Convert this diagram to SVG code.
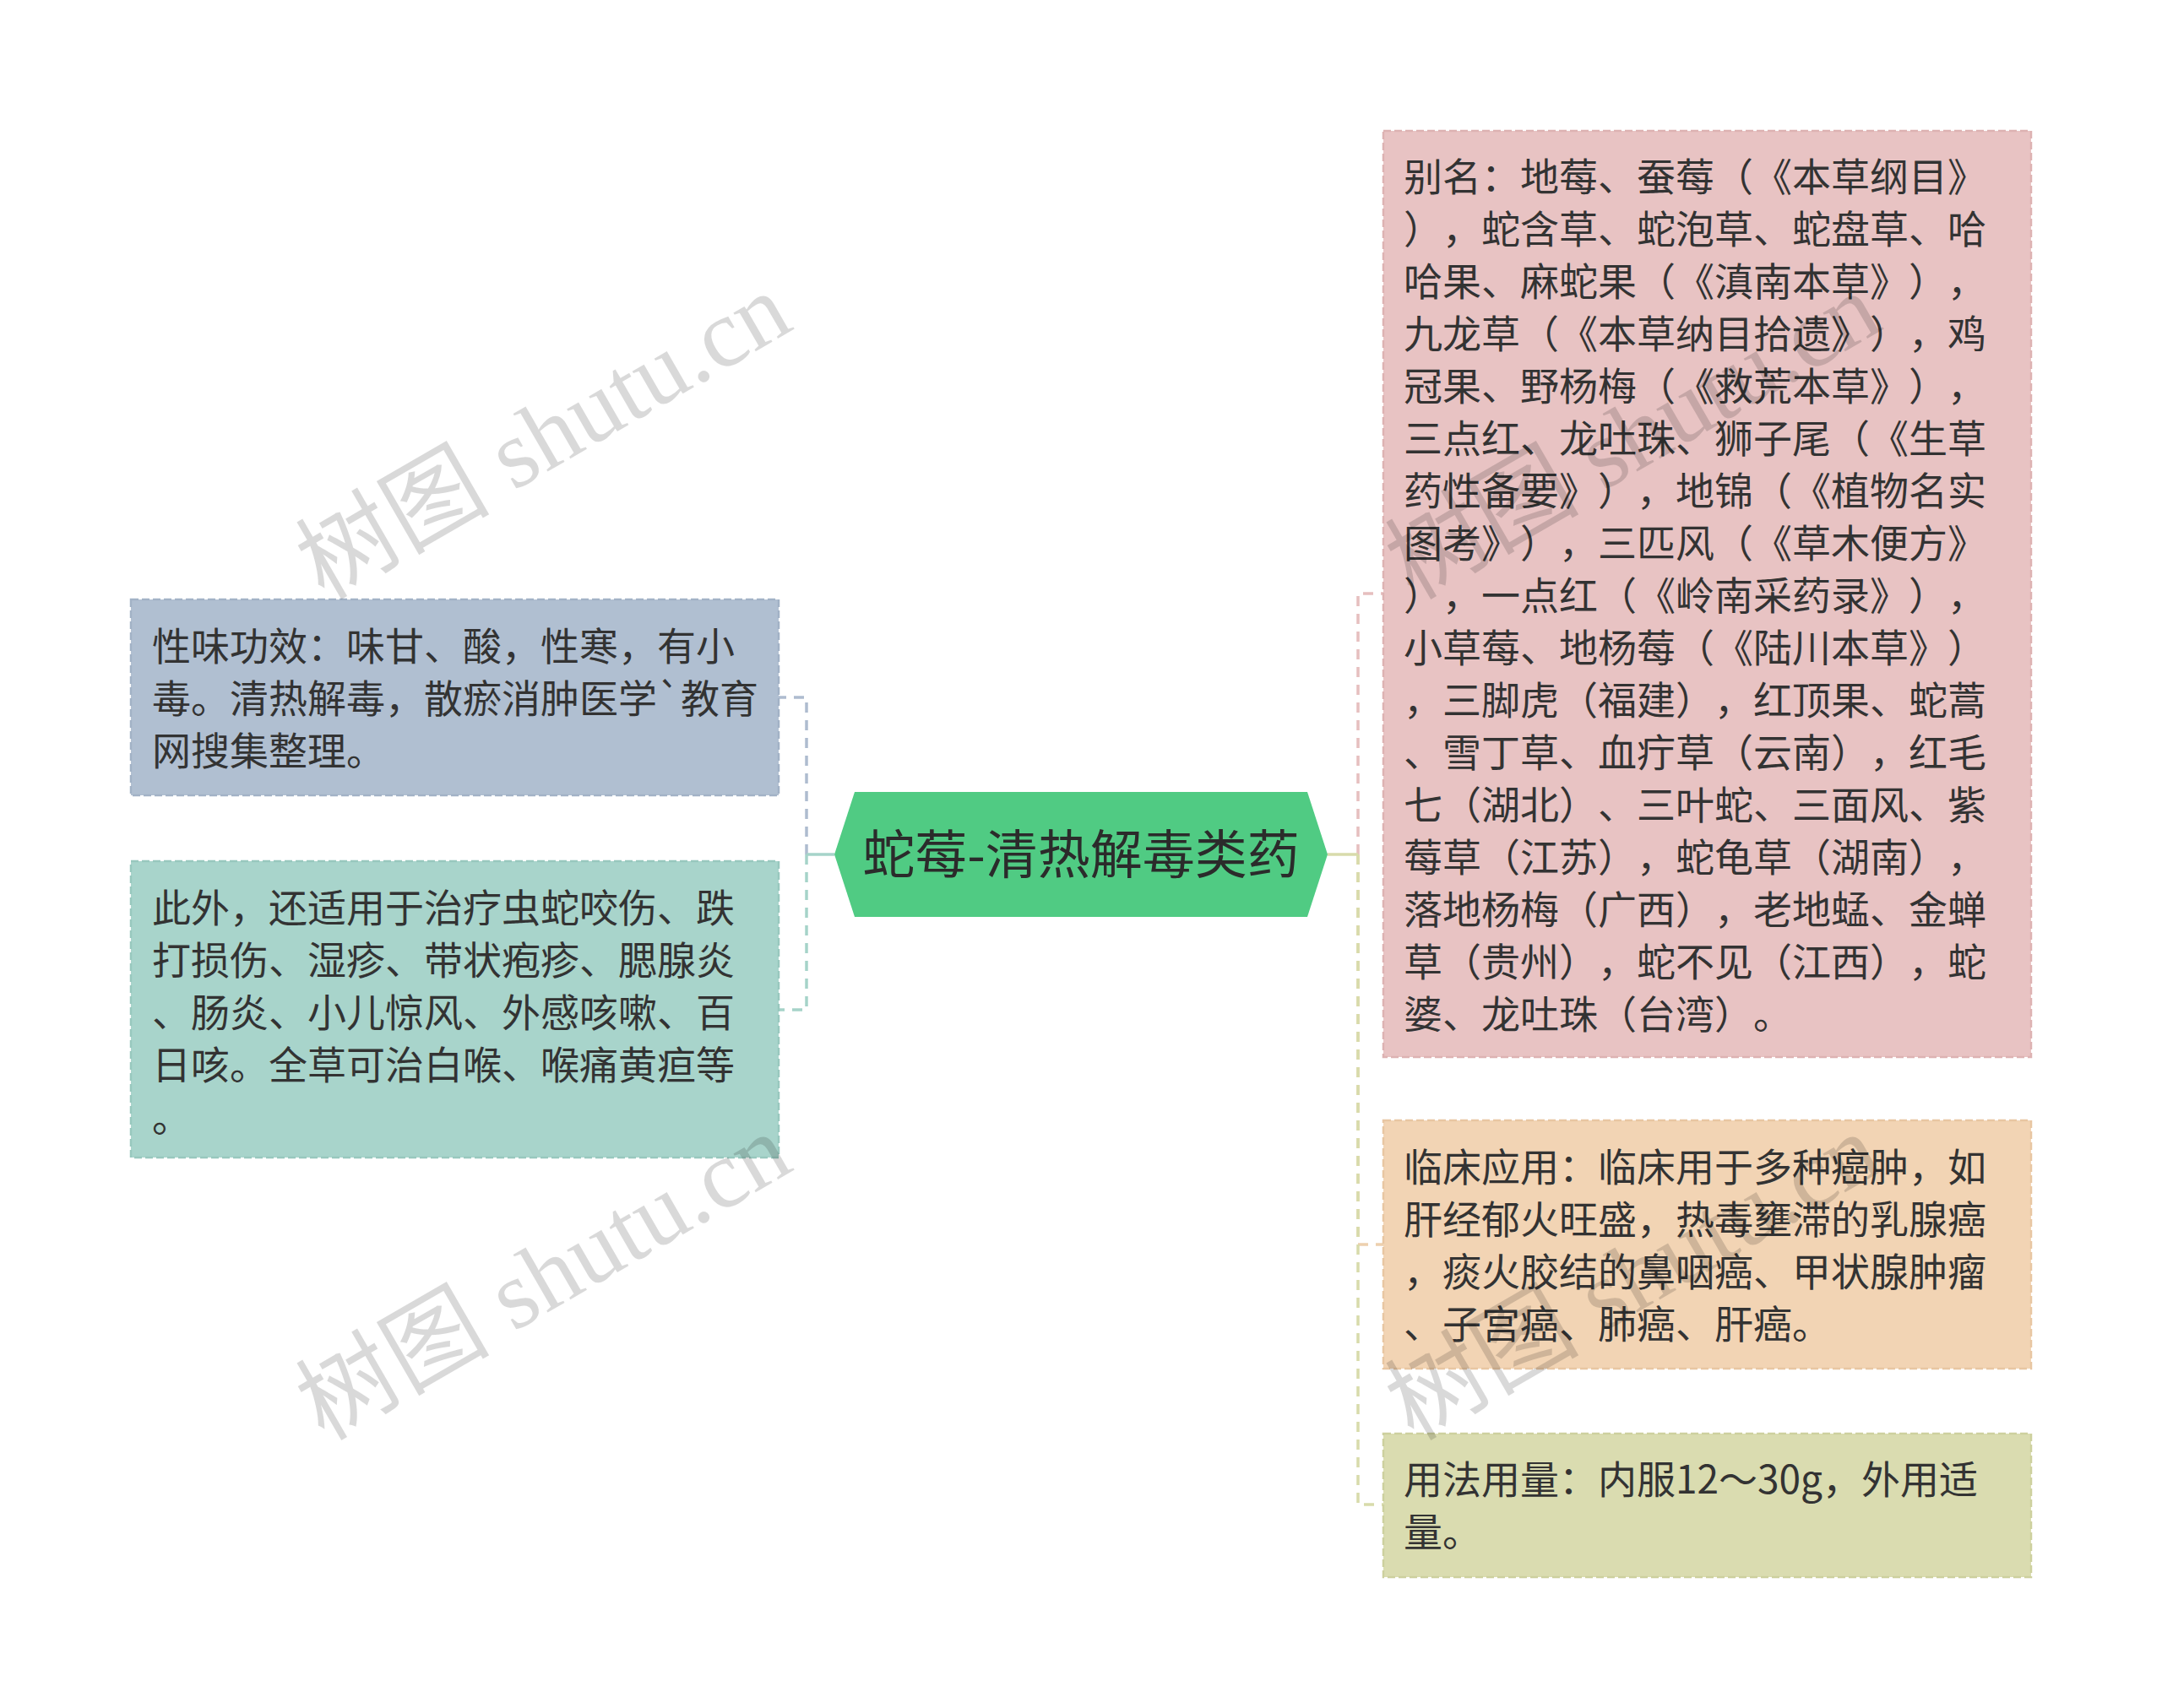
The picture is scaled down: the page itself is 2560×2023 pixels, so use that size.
<svg xmlns="http://www.w3.org/2000/svg" width="2560" height="2023" viewBox="0 0 2560 2023">
<style>
.t{font-family:"Noto Sans CJK SC","Noto Sans",sans-serif;font-size:46px;fill:#333333;text-spacing-trim:space-all;font-feature-settings:"halt" 0,"chws" 0}
.c{font-family:"Noto Sans CJK SC","Noto Sans",sans-serif;font-size:62px;fill:#2b2b2b}
.box{stroke-width:2.5;stroke-dasharray:9 4}
.conn{fill:none;stroke-width:3.5;stroke-dasharray:12 9}
.wm{font-family:"Liberation Serif","Noto Sans CJK SC",serif;font-size:115px;fill:#000;fill-opacity:0.15}
</style>
<rect width="2560" height="2023" fill="#ffffff"/>
<g id="connectors">
<path class="conn" stroke="#AEBCCF" d="M955,1012 V826 H922"/>
<path class="conn" stroke="#A6D3C9" d="M955,1012 V1196 H922"/>
<path fill="none" stroke="#A6D3C9" stroke-width="3.5" d="M988,1012 H955"/>
<path class="conn" stroke="#E6BFBF" d="M1608,1012 V703 H1638"/>
<path class="conn" stroke="#EDD0AE" d="M1608,1012 V1474 H1638"/>
<path class="conn" stroke="#D8DBAB" d="M1608,1012 V1782 H1638"/>
<path fill="none" stroke="#D8DBAB" stroke-width="3.5" d="M1572,1012 H1608"/>
</g>
<g id="center">
<polygon points="988,1012 1012,938 1548,938 1572,1012 1548,1086 1012,1086" fill="#50CB83"/>
<text class="c" x="1280" y="1035" text-anchor="middle">蛇莓-清热解毒类药</text>
</g>
<g id="node-xingwei">
<rect class="box" x="155" y="710" width="767" height="232" fill="#B0BFD1" stroke="#A2B2C6"/>
<text class="t"><tspan x="180" y="782">性味功效：味甘、酸，性寒，有小</tspan><tspan x="180" y="844">毒。清热解毒，散瘀消肿医学`教育</tspan><tspan x="180" y="906">网搜集整理。</tspan></text>
</g>
<g id="node-ciwai">
<rect class="box" x="155" y="1020" width="767" height="351" fill="#A8D4CB" stroke="#98C8BE"/>
<text class="t"><tspan x="180" y="1092">此外，还适用于治疗虫蛇咬伤、跌</tspan><tspan x="180" y="1154">打损伤、湿疹、带状疱疹、腮腺炎</tspan><tspan x="180" y="1216">、肠炎、小儿惊风、外感咳嗽、百</tspan><tspan x="180" y="1278">日咳。全草可治白喉、喉痛黄疸等</tspan><tspan x="180" y="1340">。</tspan></text>
</g>
<g id="node-bieming">
<rect class="box" x="1638" y="155" width="767" height="1097" fill="#E8C3C3" stroke="#DDB2B2"/>
<text class="t"><tspan x="1662" y="226">别名：地莓、蚕莓（《本草纲目》</tspan><tspan x="1662" y="288">），蛇含草、蛇泡草、蛇盘草、哈</tspan><tspan x="1662" y="350">哈果、麻蛇果（《滇南本草》），</tspan><tspan x="1662" y="412">九龙草（《本草纳目拾遗》），鸡</tspan><tspan x="1662" y="474">冠果、野杨梅（《救荒本草》），</tspan><tspan x="1662" y="536">三点红、龙吐珠、狮子尾（《生草</tspan><tspan x="1662" y="598">药性备要》），地锦（《植物名实</tspan><tspan x="1662" y="660">图考》），三匹风（《草木便方》</tspan><tspan x="1662" y="722">），一点红（《岭南采药录》），</tspan><tspan x="1662" y="784">小草莓、地杨莓（《陆川本草》）</tspan><tspan x="1662" y="846">，三脚虎（福建），红顶果、蛇蒿</tspan><tspan x="1662" y="908">、雪丁草、血疔草（云南），红毛</tspan><tspan x="1662" y="970">七（湖北）、三叶蛇、三面风、紫</tspan><tspan x="1662" y="1032">莓草（江苏），蛇龟草（湖南），</tspan><tspan x="1662" y="1094">落地杨梅（广西），老地蜢、金蝉</tspan><tspan x="1662" y="1156">草（贵州），蛇不见（江西），蛇</tspan><tspan x="1662" y="1218">婆、龙吐珠（台湾）。</tspan></text>
</g>
<g id="node-linchuang">
<rect class="box" x="1638" y="1327" width="767" height="294" fill="#F2D4B4" stroke="#E8C6A2"/>
<text class="t"><tspan x="1662" y="1399">临床应用：临床用于多种癌肿，如</tspan><tspan x="1662" y="1461">肝经郁火旺盛，热毒壅滞的乳腺癌</tspan><tspan x="1662" y="1523">，痰火胶结的鼻咽癌、甲状腺肿瘤</tspan><tspan x="1662" y="1585">、子宫癌、肺癌、肝癌。</tspan></text>
</g>
<g id="node-yongfa">
<rect class="box" x="1638" y="1698" width="767" height="170" fill="#DADCB0" stroke="#CDD09E"/>
<text class="t"><tspan x="1662" y="1769">用法用量：内服12～30g，外用适</tspan><tspan x="1662" y="1831">量。</tspan></text>
</g>
<g id="watermarks">
<text class="wm" x="645" y="555" text-anchor="middle" transform="rotate(-30 645 519)">树图 shutu.cn</text>
<text class="wm" x="645" y="1551" text-anchor="middle" transform="rotate(-30 645 1515)">树图 shutu.cn</text>
<text class="wm" x="1935" y="555" text-anchor="middle" transform="rotate(-30 1935 519)">树图 shutu.cn</text>
<text class="wm" x="1935" y="1551" text-anchor="middle" transform="rotate(-30 1935 1515)">树图 shutu.cn</text>
</g>
</svg>
